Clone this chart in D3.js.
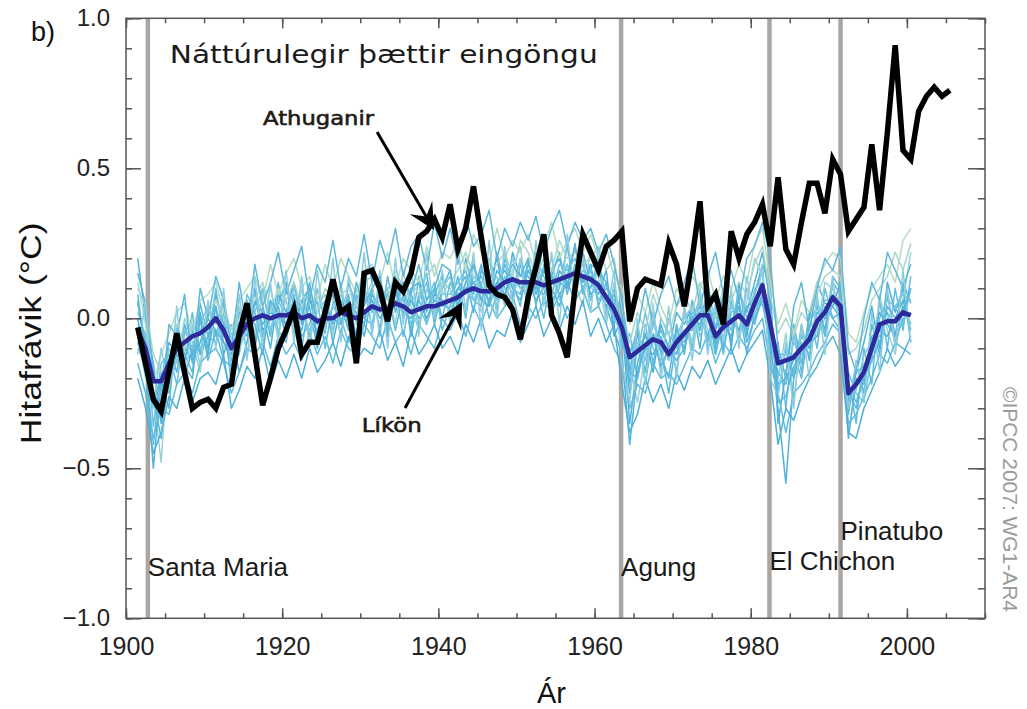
<!DOCTYPE html>
<html>
<head>
<meta charset="utf-8">
<script src="https://cdn.jsdelivr.net/npm/d3@7"></script>
<style>
body { margin: 0; background: #fff; }
svg { display: block; font-family: "Liberation Sans", Arial, sans-serif; }
</style>
</head>
<body>
<div id="chart"></div>
<script>

// observations (Athuganir), 1901-2005
var obsStart = 1901;
var observed = [
  -0.03, -0.15, -0.27, -0.31, -0.18, -0.05, -0.18, -0.30, -0.28, -0.27,
  -0.30, -0.23, -0.22, -0.05,  0.05, -0.12, -0.29, -0.20, -0.10, -0.04,
   0.03, -0.12, -0.08, -0.08,  0.02,  0.13,  0.02,  0.04, -0.15,  0.15,
   0.16,  0.10, -0.01,  0.12,  0.09,  0.15,  0.27,  0.29,  0.33,  0.27,
   0.38,  0.23,  0.30,  0.44,  0.27,  0.11,  0.08,  0.07,  0.03, -0.07,
   0.07,  0.17,  0.28,  0.01, -0.05, -0.13,  0.10,  0.28,  0.22,  0.16,
   0.24,  0.26,  0.29, -0.01,  0.10,  0.13,  0.12,  0.11,  0.25,  0.18,
   0.04,  0.20,  0.39,  0.04,  0.08, -0.02,  0.29,  0.20,  0.28,  0.32,
   0.38,  0.24,  0.47,  0.23,  0.18,  0.32,  0.45,  0.45,  0.35,  0.53,
   0.48,  0.29,  0.33,  0.37,  0.58,  0.36,  0.62,  0.91,  0.56,  0.53,
   0.69,  0.74,  0.77,  0.74,  0.76
];

// model mean (Líkön), 1901-2000
var runStart = 1901;
var modelMean = [
  -0.04, -0.10, -0.21, -0.21, -0.15, -0.10, -0.08, -0.06, -0.05, -0.03,
   0.00, -0.04, -0.10, -0.06, -0.02,  0.00,  0.01,  0.00,  0.01,  0.01,
   0.02,  0.00,  0.01, -0.01,  0.00,  0.00,  0.02,  0.01,  0.00,  0.02,
   0.04,  0.03,  0.03,  0.05,  0.04,  0.02,  0.03,  0.04,  0.04,  0.05,
   0.06,  0.07,  0.09,  0.10,  0.09,  0.09,  0.10,  0.12,  0.13,  0.12,
   0.12,  0.12,  0.11,  0.12,  0.13,  0.14,  0.15,  0.14,  0.13,  0.11,
   0.07,  0.03, -0.03, -0.13, -0.11, -0.09, -0.07, -0.08, -0.12, -0.08,
  -0.05, -0.02,  0.01,  0.01, -0.06, -0.03, -0.01,  0.01, -0.02,  0.05,
   0.11, -0.02, -0.15, -0.14, -0.13, -0.10, -0.07, -0.01,  0.02,  0.07,
   0.04, -0.25, -0.22, -0.18, -0.10, -0.02, -0.01, -0.01,  0.02,  0.01
];

// individual model runs, 1901-2000
var run01 = [.05,-.08,-.30,-.25,-.10,-.18,-.02,-.12,.02,-.10, .08,-.02,-.20,-.05,.06,-.08,.10,-.04,.05,.12, -.05,.06,.10,-.08,.02,.08,-.06,.12,.04,-.02, .10,-.04,.14,.02,.12,-.06,.08,.15,-.02,.10, .16,.02,.20,.08,.18,.04,.22,.10,.06,.18, .08,.22,.05,.16,.20,.10,.25,.08,.18,.04, .12,-.02,.05,-.22,-.05,-.18,.02,-.12,-.20,-.02, -.12,.06,-.04,.10,-.10,.04,-.08,.08,.02,.12, .22,.05,-.25,-.10,-.20,-.02,-.14,.06,-.04,.14, .10,-.32,-.15,-.25,-.02,-.12,.08,-.06,.12,.05];
var run02 = [-.10,-.15,-.42,-.18,-.25,-.05,-.15,.02,-.12,.04, -.06,.05,-.15,-.12,.04,.08,-.06,.06,-.04,-.08, .08,-.06,-.02,.06,-.10,.05,.10,-.04,.08,.00, -.02,.12,-.04,.10,-.06,.08,-.02,.06,.12,-.04, .04,.14,.00,.18,.06,.16,.02,.20,.12,.04, .20,.04,.18,.06,.10,.24,.08,.20,.06,.18, .02,.10,-.10,-.05,-.20,-.02,-.15,.00,-.05,-.18, .04,-.10,.08,-.08,.02,-.12,.06,-.05,.10,-.02, .08,-.12,-.08,-.30,-.05,-.18,.02,-.10,.10,.00, -.04,-.20,-.35,-.10,-.22,.06,-.10,.10,-.04,.14];
var run03 = [.20,.00,-.15,-.35,-.20,-.12,-.20,-.10,.00,-.12, .04,-.12,-.05,-.18,-.08,.05,.02,-.10,.08,.02, .12,-.02,.04,-.10,.06,-.08,.04,.06,-.06,.10, .02,.08,-.06,.14,.00,.10,.12,-.02,.08,.14, .00,.10,.14,.02,.16,.12,.20,.06,.22,.14, .14,.10,.26,.02,.16,.12,.06,.22,.12,.08, .16,-.06,.00,-.35,-.15,-.05,-.18,-.02,-.10,.02, -.02,.04,-.10,.12,-.04,.08,-.10,.12,-.06,.08, .18,.10,-.35,-.18,-.02,-.15,.00,.12,.05,.04, .12,-.28,-.18,-.08,.04,-.10,.12,.02,.10,-.08];
var run04 = [-.05,-.20,-.25,-.48,-.10,-.15,.00,-.08,-.18,.02, .02,-.10,-.08,.04,-.12,-.04,.08,.10,-.02,.06, -.04,.10,-.08,.04,.08,-.06,.12,-.02,.10,.06, .12,-.06,.10,-.02,.16,.04,-.04,.10,.02,.12, .10,.00,.12,.20,.02,.10,.14,.04,.16,.24, .04,.16,.12,.20,.06,.18,.12,.04,.24,.14, -.02,.12,-.02,-.15,-.28,-.12,.05,-.20,-.08,-.12, .02,-.08,.10,-.04,-.12,.02,.08,-.06,.06,.20, .14,-.05,-.20,-.05,-.28,-.05,-.10,-.04,.12,.10, .00,-.38,-.22,-.15,-.15,.08,-.04,-.12,.06,.22];
var run05 = [.08,-.12,-.20,-.22,-.30,-.02,-.12,-.18,.05,-.06, -.08,.02,-.22,.02,.00,-.10,.04,-.06,.12,-.04, .04,-.10,.06,.00,-.05,.12,-.02,.08,-.08,.06, .06,.02,.08,-.04,.08,-.04,.14,.02,.10,.00, .12,.06,.04,.14,.12,.00,.08,.18,.10,.08, .18,.12,.00,.14,.22,.08,.18,.14,.10,.20, .06,.00,.08,-.18,-.02,-.22,-.05,-.10,-.25,-.06, -.08,.02,.00,-.06,.04,-.10,.02,.04,-.12,.02, .05,-.08,-.18,-.22,-.12,-.20,-.02,.04,-.06,.12, .08,-.22,-.28,-.20,-.06,-.04,.02,-.08,.00,.02];
var run06 = [-.02,-.05,-.36,-.15,-.12,-.22,-.05,.00,-.10,-.08, .10,-.06,-.02,-.10,.08,.02,-.08,.04,-.06,.10, .06,.04,-.06,.10,-.02,.04,.00,-.08,.06,.12, -.04,.10,.00,.08,.06,-.02,.06,.12,.00,.08, .08,.12,.16,.06,.04,.20,.06,.14,.08,.20, .10,.20,.14,.08,.18,.16,.20,.10,.16,.06, .10,.06,-.08,-.10,-.12,.02,-.10,-.14,.00,-.10, -.06,.00,.06,-.10,-.02,.02,-.04,.10,.00,.08, .16,-.10,-.12,-.12,-.18,-.08,-.12,-.02,.06,.06, .06,-.18,-.25,-.28,-.12,.00,.06,.04,-.02,.10];
var run07 = [.00,-.15,-.50,-.20,-.18,-.08,-.10,-.14,-.08,.00, -.04,-.08,-.12,-.02,-.06,.06,-.02,.02,.00,-.02, .00,-.04,.08,-.06,.04,-.02,.06,.00,.02,-.06, .08,.04,-.02,.06,.02,.06,.00,.04,.08,.06, .02,.08,.10,.12,.14,.08,.12,.08,.14,.10, .12,.06,.10,.14,.08,.12,.16,.18,.08,.10, .04,-.04,-.12,-.42,-.18,-.10,-.12,-.06,-.14,-.04, -.10,.00,.02,.06,-.08,.00,.00,-.04,.04,.06, .10,-.08,-.30,-.55,-.20,-.10,-.06,.00,.02,.06, .02,-.40,-.20,-.22,-.10,-.04,-.06,.00,.06,-.04];
var run08 = [.12,-.02,-.22,-.12,-.05,.02,.05,-.05,.06,.08, .12,.02,-.04,.06,.10,.14,.06,.18,.08,.15, .20,.10,.14,.06,.18,.10,.20,.14,.08,.16, .18,.12,.22,.10,.20,.16,.12,.24,.14,.22, .20,.26,.16,.28,.22,.18,.30,.20,.26,.22, .28,.18,.24,.32,.20,.26,.30,.22,.28,.20, .24,.14,.10,-.02,.08,.02,.12,.04,-.02,.10, .06,.14,.10,.16,.06,.14,.10,.18,.12,.25, .30,.12,-.02,.05,-.05,.06,.02,.12,.18,.22, .20,-.05,-.08,.02,.10,.14,.18,.12,.26,.30];
var run09 = [-.15,-.25,-.40,-.30,-.32,-.22,-.18,-.25,-.15,-.12, -.10,-.15,-.25,-.18,-.10,-.12,-.08,-.16,-.06,-.12, -.08,-.14,-.05,-.12,-.06,-.15,-.04,-.10,-.12,-.02, -.06,-.10,.00,-.08,-.04,-.12,-.02,-.06,-.10,.00, -.04,.02,-.06,.04,-.02,.06,.00,.04,.08,-.02, .04,.00,.06,.02,.08,.00,.06,.10,.02,.04, -.02,-.10,-.15,-.30,-.22,-.25,-.15,-.20,-.18,-.22, -.16,-.10,-.12,-.05,-.15,-.08,-.12,-.06,-.10,-.04, .00,-.15,-.25,-.38,-.25,-.22,-.18,-.12,-.08,-.02, -.05,-.35,-.32,-.26,-.20,-.12,-.15,-.08,-.10,-.12];
var run10 = [.02,-.06,-.18,-.28,-.22,-.14,-.04,-.10,-.02,.04, -.02,.06,-.06,-.10,-.04,.02,.10,-.04,.06,.00, .10,.02,-.04,.02,.06,-.04,.08,.04,.00,.08, .02,.06,.10,.12,.00,.08,.04,-.02,.06,.10, .14,.04,.10,.06,.12,.14,.04,.12,.20,.10, .08,.14,.10,.04,.12,.18,.10,.16,.12,.10, .08,.00,-.05,-.20,-.08,-.14,-.02,-.08,-.14,-.06, .00,.04,-.06,.02,-.04,-.06,.04,.00,-.04,.10, .12,.02,-.15,-.18,-.08,-.14,-.04,-.06,.00,.08, .06,-.26,-.24,-.12,-.08,-.06,.00,.04,.08,.06];
var run11 = [-.08,-.18,-.28,-.20,-.08,-.12,-.14,-.04,-.12,-.06, .04,-.08,-.14,-.02,-.02,.10,-.04,.00,.04,-.06, .02,.06,.00,-.04,.04,.00,-.02,.06,.02,.00, .06,.00,.04,.10,.02,.00,.06,.00,.06,.04, .06,.10,.08,.12,.06,.04,.12,.16,.10,.06, .16,.10,.08,.14,.12,.10,.16,.12,.14,.12, .04,.08,-.02,-.25,-.10,-.06,-.08,-.04,-.10,-.12, -.04,-.04,.04,.00,-.08,-.02,-.06,.04,-.04,.02, .08,.00,-.22,-.20,-.14,-.06,-.10,.02,.00,.04, .00,-.30,-.18,-.16,-.08,.02,-.02,-.06,.04,-.02];
var run12 = [.10,.04,-.12,-.18,-.14,-.02,-.10,.00,-.04,.02, .06,.00,-.06,.00,.02,.06,.12,.02,.10,.06, .12,.04,.08,.02,.10,.06,.08,.10,.04,.12, .14,.08,.06,.16,.10,.12,.08,.14,.18,.08, .12,.16,.22,.14,.10,.16,.18,.22,.14,.26, .22,.14,.20,.16,.26,.20,.22,.18,.20,.24, .16,.20,.04,-.08,.02,-.04,.08,.00,-.06,.04, .08,.02,.12,.06,.00,.10,.06,.12,.08,.18, .24,.08,-.05,.00,-.06,.02,-.02,.08,.14,.16, .14,-.12,-.10,-.04,.06,.10,.14,.22,.16,.25];
var run13 = [.15,.05,-.18,-.30,-.02,-.06,.08,-.15,.10,.00, .14,.06,-.10,.12,-.04,.18,.04,.12,.22,.08, .16,.24,.06,.18,.12,.26,.10,.20,.14,.28, .12,.26,.18,.30,.14,.24,.28,.16,.32,.20, .30,.18,.34,.24,.28,.36,.20,.30,.24,.32, .26,.34,.22,.30,.36,.24,.32,.26,.30,.22, .28,.18,.06,-.12,-.04,.10,-.02,.08,.14,.04, .12,.20,.04,.14,.22,.08,.16,.06,.20,.24, .32,.20,-.10,-.20,.04,.12,-.04,.10,.20,.16, .24,-.10,-.18,.00,.12,.06,.22,.16,.10,.18];
var run14 = [-.20,-.30,-.45,-.38,-.26,-.30,-.20,-.28,-.20,-.18, -.22,-.12,-.30,-.24,-.16,-.20,-.10,-.22,-.14,-.20, -.12,-.20,-.10,-.18,-.14,-.08,-.16,-.06,-.14,-.10, -.12,-.04,-.14,-.08,-.16,-.04,-.12,-.08,-.02,-.10, -.06,-.12,-.02,-.08,.00,-.10,-.04,-.06,.02,-.08, -.02,.04,-.06,.00,-.04,.04,-.02,.06,-.06,.00, -.08,-.02,-.22,-.38,-.32,-.20,-.28,-.22,-.30,-.18, -.24,-.16,-.20,-.14,-.22,-.16,-.10,-.18,-.12,-.08, -.04,-.20,-.42,-.30,-.34,-.26,-.20,-.16,-.10,-.06, -.12,-.38,-.40,-.30,-.24,-.18,-.10,-.16,-.12,-.06];
var run15 = [-.12,.06,-.30,-.10,-.24,.04,-.22,-.02,-.16,.06, -.10,.10,-.18,.08,-.14,.14,-.10,.12,-.08,.16, -.08,.14,-.10,.16,-.04,.20,-.08,.14,-.02,.22, -.06,.16,-.10,.20,-.02,.18,-.06,.22,.00,.16, -.02,.24,.02,.22,-.04,.26,.00,.24,.04,.20, .00,.26,.04,.22,-.02,.28,.06,.20,.02,.24, .00,.16,-.15,-.28,.00,-.22,.02,-.18,.04,-.20, .04,-.14,.08,-.12,.06,-.08,.10,-.10,.14,.00, .18,-.20,-.26,-.08,-.30,-.02,-.20,.08,-.12,.14, -.06,-.30,-.14,-.28,.02,-.18,.10,-.10,.16,-.08];
var run16 = [.06,-.10,-.26,-.40,-.16,-.08,-.16,-.20,.00,-.14, -.04,-.14,-.16,-.08,.00,-.02,-.12,.06,.02,-.02, .06,.00,.12,-.02,.00,.10,.04,-.04,.12,.04, .10,.14,.02,.04,.12,.08,.18,.06,.10,.18, .16,.04,.12,.18,.10,.06,.16,.12,.18,.14, .20,.08,.16,.10,.04,.14,.24,.12,.18,.16, .12,.04,-.06,-.18,-.20,-.08,-.06,-.16,-.10,-.14, -.10,.00,-.02,.04,-.12,.00,-.02,.06,-.08,.00, .06,.04,-.28,-.26,-.16,-.12,-.08,-.06,.04,.00, .02,-.24,-.30,-.18,-.14,-.08,.04,.00,.02,.10];
var modelRuns = [run01, run02, run03, run04, run05, run06, run07, run08,
                 run09, run10, run11, run12, run13, run14, run15, run16];
var runColors = ["#58b6dc", "#62bde0", "#4fb0d8", "#9ad2d6", "#5ab9dd", "#6cc2e2",
                 "#52b3da", "#b3dcc0", "#5fbbdf", "#7ac8e4", "#55b4da", "#a6d7cf",
                 "#5db8dd", "#4cb0d9", "#8ccde0", "#58b7dc"];

// volcanic eruptions
var volcanoNames = ["Santa Maria", "Agung", "El Chichon", "Pinatubo"];
var volcanoYears = [1902.8, 1963.4, 1982.4, 1991.5];
var volcanoLabelY = [-0.86, -0.858, -0.84, -0.74];

var yTicks = [-1.0, -0.5, 0.0, 0.5, 1.0];
var xTicks = [1900, 1920, 1940, 1960, 1980, 2000];

var W = 1027, H = 709;
var svg = d3.select("#chart").append("svg")
    .attr("width", W)
    .attr("height", H);

var x = d3.scaleLinear().domain([1900, 2010]).range([126, 985]);
var y = d3.scaleLinear().domain([-1, 1]).range([618.3, 18.3]);

svg.append("clipPath").attr("id", "plotclip")
  .append("rect")
    .attr("x", x(1900)).attr("y", y(1))
    .attr("width", x(2010) - x(1900)).attr("height", y(-1) - y(1));

var plot = svg.append("g").attr("clip-path", "url(#plotclip)");

// volcano marker lines
plot.selectAll(".volc").data(volcanoYears).enter().append("line")
    .attr("x1", function(d){ return x(d); })
    .attr("x2", function(d){ return x(d); })
    .attr("y1", y(1)).attr("y2", y(-1))
    .attr("stroke", "#aca6a2")
    .attr("stroke-width", 4.5);

var runLine = d3.line()
    .x(function(d, i){ return x(runStart + i + 0.5); })
    .y(function(d){ return y(d); });

var obsLine = d3.line()
    .x(function(d, i){ return x(obsStart + i + 0.5); })
    .y(function(d){ return y(d); });

plot.selectAll(".run").data(modelRuns).enter().append("path")
    .attr("d", runLine)
    .attr("fill", "none")
    .attr("stroke", function(d, i){ return runColors[i]; })
    .attr("stroke-width", 1.5)
    .attr("stroke-linejoin", "round");

plot.append("path")
    .attr("d", runLine(modelMean))
    .attr("fill", "none")
    .attr("stroke", "#2d2b9c")
    .attr("stroke-width", 4.5)
    .attr("stroke-linejoin", "round");

plot.append("path")
    .attr("d", obsLine(observed))
    .attr("fill", "none")
    .attr("stroke", "#000")
    .attr("stroke-width", 5.5)
    .attr("stroke-linejoin", "miter");

// axes: ticks point inward on all four sides
function styleAxis(g) {
    g.select(".domain").remove();
    g.selectAll(".tick line").attr("stroke", "#555").attr("stroke-width", 1.5);
    g.selectAll(".tick text").attr("fill", "#222");
}

svg.append("g").attr("transform", "translate(0," + y(-1) + ")")
    .call(d3.axisBottom(x).tickValues(d3.range(1900, 2011, 5)).tickSize(-5).tickFormat(""))
    .call(styleAxis);
svg.append("g").attr("transform", "translate(0," + y(-1) + ")")
    .call(d3.axisBottom(x).tickValues(xTicks).tickSize(-10).tickPadding(19).tickFormat(d3.format("d")))
    .call(styleAxis)
    .selectAll("text").attr("font-size", 25);

svg.append("g").attr("transform", "translate(0," + y(1) + ")")
    .call(d3.axisTop(x).tickValues(d3.range(1900, 2011, 5)).tickSize(-5).tickFormat(""))
    .call(styleAxis);
svg.append("g").attr("transform", "translate(0," + y(1) + ")")
    .call(d3.axisTop(x).tickValues(xTicks).tickSize(-10).tickFormat(""))
    .call(styleAxis);

svg.append("g").attr("transform", "translate(" + x(1900) + ",0)")
    .call(d3.axisLeft(y).ticks(20).tickSize(-6).tickFormat(""))
    .call(styleAxis);
svg.append("g").attr("transform", "translate(" + x(1900) + ",0)")
    .call(d3.axisLeft(y).tickValues(yTicks).tickSize(-15).tickPadding(16).tickFormat(d3.format(".1f")))
    .call(styleAxis)
    .selectAll("text").attr("font-size", 24);

svg.append("g").attr("transform", "translate(" + x(2010) + ",0)")
    .call(d3.axisRight(y).ticks(20).tickSize(-7).tickFormat(""))
    .call(styleAxis);
svg.append("g").attr("transform", "translate(" + x(2010) + ",0)")
    .call(d3.axisRight(y).tickValues(yTicks).tickSize(-17).tickFormat(""))
    .call(styleAxis);

svg.append("rect")
    .attr("x", x(1900)).attr("y", y(1))
    .attr("width", x(2010) - x(1900)).attr("height", y(-1) - y(1))
    .attr("fill", "none").attr("stroke", "#555").attr("stroke-width", 1.5);

// volcano labels
svg.selectAll(".vlab").data(volcanoNames).enter().append("text")
    .attr("x", function(d, i){ return x(volcanoYears[i]); })
    .attr("y", function(d, i){ return y(volcanoLabelY[i]); })
    .attr("font-size", 26)
    .attr("fill", "#1a1a1a")
    .text(function(d){ return d; });

// axis titles and panel text
svg.append("text")
    .attr("transform", "translate(41," + y(-0.05) + ") rotate(-90)")
    .attr("text-anchor", "middle")
    .attr("font-size", 30)
    .attr("fill", "#111")
    .attr("textLength", 222).attr("lengthAdjust", "spacingAndGlyphs")
    .text("Hitafrávik (°C)");

svg.append("text")
    .attr("x", (x(1900) + x(2010)) / 2 - 4).attr("y", 703)
    .attr("text-anchor", "middle")
    .attr("font-size", 29)
    .attr("fill", "#111")
    .text("Ár");

svg.append("text")
    .attr("x", 31).attr("y", 41)
    .attr("font-size", 27)
    .attr("fill", "#111")
    .text("b)");

svg.append("text")
    .attr("x", x(1905.6)).attr("y", y(0.85))
    .attr("font-family", "'DejaVu Sans', sans-serif")
    .attr("font-size", 25)
    .attr("fill", "#1a1a1a")
    .attr("textLength", 428).attr("lengthAdjust", "spacingAndGlyphs")
    .text("Náttúrulegir þættir eingöngu");

svg.append("text")
    .attr("transform", "translate(1003,387) rotate(90)")
    .attr("font-size", 21)
    .attr("fill", "#9a9a9a")
    .attr("textLength", 225).attr("lengthAdjust", "spacingAndGlyphs")
    .text("©IPCC  2007: WG1-AR4");

// annotation arrows
var arrows = [
    { label: "Athuganir", lx: 1917.55, ly: 0.644, len: 111, from: [1932.15, 0.621], to: [1939.45, 0.294] },
    { label: "Líkön",     lx: 1930.2, ly: -0.378, len: 60, from: [1935.74, -0.299], to: [1943.04, 0.054] }
];

arrows.forEach(function(a) {
    var x0 = x(a.from[0]), y0 = y(a.from[1]), x1 = x(a.to[0]), y1 = y(a.to[1]);
    var dx = x1 - x0, dy = y1 - y0, L = Math.sqrt(dx * dx + dy * dy);
    var ux = dx / L, uy = dy / L, px = -uy, py = ux;
    var hl = 26, hw = 13;
    svg.append("line")
        .attr("x1", x0).attr("y1", y0)
        .attr("x2", x1 - ux * hl * 0.5).attr("y2", y1 - uy * hl * 0.5)
        .attr("stroke", "#000").attr("stroke-width", 3);
    var head = d3.path();
    head.moveTo(x1, y1);
    head.lineTo(x1 - ux * hl + px * hw, y1 - uy * hl + py * hw);
    head.lineTo(x1 - ux * hl * 0.6, y1 - uy * hl * 0.6);
    head.lineTo(x1 - ux * hl - px * hw, y1 - uy * hl - py * hw);
    head.closePath();
    svg.append("path").attr("d", head.toString()).attr("fill", "#000");
    svg.append("text")
        .attr("x", x(a.lx)).attr("y", y(a.ly))
        .attr("font-family", "'DejaVu Sans', sans-serif")
        .attr("font-size", 20)
        .attr("fill", "#1e1a14")
        .attr("stroke", "#1e1a14")
        .attr("stroke-width", 0.6)
        .attr("textLength", a.len).attr("lengthAdjust", "spacingAndGlyphs")
        .text(a.label);
});

</script>
</body>
</html>
